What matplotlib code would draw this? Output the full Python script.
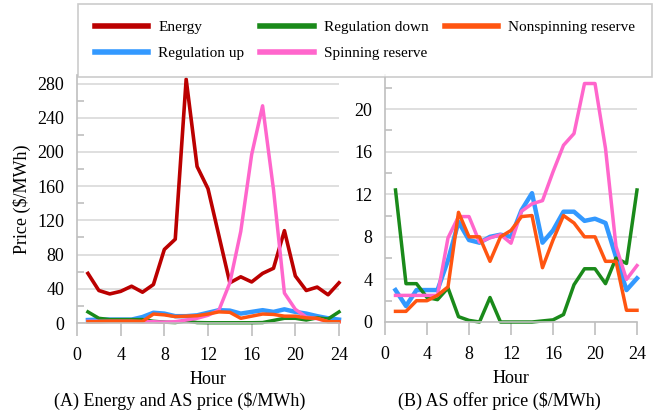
import matplotlib
matplotlib.use('Agg')
import matplotlib.pyplot as plt
from matplotlib.ticker import MultipleLocator

plt.rcParams['font.family'] = ['Liberation Serif', 'DejaVu Serif']

# 小时 1..24
hours = list(range(1, 25))

# (A) 能量与辅助服务价格 ($/MWh)
energy_a = [58, 38, 34, 37, 43, 36, 45, 86, 98, 285, 183, 157,
            102, 47, 54, 48, 58, 64, 108, 55, 38, 42, 33, 47]
reg_up_a = [3.5, 4, 4, 4, 4, 7, 12, 11, 8, 8, 9, 12,
            15, 14.5, 11, 13, 15, 13, 16, 13, 11, 8, 5.5, 4]
reg_down_a = [13, 5.5, 4, 4, 4, 4, 2, 1, 0.5, 2.5, 0.5, 0.3,
              0.3, 0.3, 0.3, 0.3, 0.5, 3, 5.5, 5.5, 3.5, 6, 4.7, 13]
spin_a = [2, 2, 2, 2, 2, 1.5, 1.5, 1, 1.5, 3.5, 5.5, 9,
          15, 47, 107, 197, 254, 156, 35, 16, 7, 5, 1.5, 1.5]
nonspin_a = [1.5, 1.5, 2, 2, 2, 2, 10.5, 9.5, 7.5, 8, 8.5, 10.5,
             13, 12.5, 5.5, 8, 10.5, 10, 8, 8, 6, 5.5, 1.5, 1.5]

# (B) 辅助服务报价 ($/MWh)
reg_up_b = [3.0, 1.5, 3.0, 3.0, 3.0, 5.8, 9.4, 7.7, 7.45, 8.0, 8.2, 8.0,
            10.5, 12.1, 7.45, 8.6, 10.36, 10.36, 9.5, 9.7, 9.3, 6.1, 3.0, 4.1]
reg_down_b = [12.4, 3.6, 3.6, 2.3, 2.1, 3.2, 0.5, 0.15, 0.0, 2.3, 0.0, 0.0,
              0.0, 0.0, 0.1, 0.2, 0.7, 3.5, 5.0, 5.0, 3.6, 6.0, 5.5, 12.4]
spin_b = [2.5, 2.5, 2.5, 2.5, 2.5, 7.9, 9.9, 9.9, 7.5, 7.9, 8.2, 7.4,
          10.4, 11.1, 11.4, 14.1, 16.6, 17.7, 22.4, 22.4, 16.3, 7.1, 4.0, 5.3]
nonspin_b = [1.0, 1.0, 2.0, 2.0, 2.5, 3.3, 10.3, 8.0, 8.0, 5.7, 8.0, 8.6,
             9.9, 10.0, 5.1, 7.7, 10.0, 9.3, 8.0, 8.0, 5.7, 5.7, 1.1, 1.1]

labels = ["Energy", "Regulation up", "Regulation down", "Spinning reserve", "Nonspinning reserve"]
colors = {"Energy": "#bb0000", "Regulation up": "#3399ff", "Regulation down": "#1a8a1a",
          "Spinning reserve": "#ff66cc", "Nonspinning reserve": "#ff5511"}
widths = {"Energy": 2.6, "Regulation up": 3.2, "Regulation down": 2.5,
          "Spinning reserve": 2.5, "Nonspinning reserve": 2.5}

series_a = {"Energy": energy_a, "Regulation up": reg_up_a, "Regulation down": reg_down_a,
            "Spinning reserve": spin_a, "Nonspinning reserve": nonspin_a}
series_b = {"Regulation up": reg_up_b, "Regulation down": reg_down_b,
            "Spinning reserve": spin_b, "Nonspinning reserve": nonspin_b}

fig = plt.figure(figsize=(6.62, 4.13), dpi=100)
ax_a = fig.add_axes([77 / 662, 90 / 413, 262 / 662, 248 / 413])
ax_b = fig.add_axes([385 / 662, 91 / 413, 252 / 662, 247 / 413])

axis_gray = "#bfbfbf"
grid_gray = "#d9d9d9"


def style_axis(ax, ymax, major, minor):
    ax.set_xlim(0, 24)
    ax.set_ylim(0, ymax)
    ax.xaxis.set_major_locator(MultipleLocator(4))
    ax.yaxis.set_major_locator(MultipleLocator(major))
    ax.yaxis.set_minor_locator(MultipleLocator(minor))
    for s in ["top", "right"]:
        ax.spines[s].set_visible(False)
    for s in ["left", "bottom"]:
        ax.spines[s].set_color(axis_gray)
        ax.spines[s].set_linewidth(1.2)
    ax.grid(axis="y", which="major", color=grid_gray, linewidth=1.2)
    ax.set_axisbelow(True)
    ax.tick_params(axis="x", direction="out", length=9, width=1.2, color=axis_gray,
                   labelsize=13, pad=8)
    ax.tick_params(axis="y", which="major", length=0, labelsize=13, pad=9)
    ax.tick_params(axis="y", which="minor", direction="in", length=5, width=1.2, color=axis_gray)
    ax.set_xlabel("Hour", fontsize=13, labelpad=5)


lines = {}
for name in labels:
    ln, = ax_a.plot(hours, series_a[name], color=colors[name], lw=widths[name],
                    solid_joinstyle="round", label=name, clip_on=False)
    lines[name] = ln
    if name in series_b:
        ax_b.plot(hours, series_b[name], color=colors[name], lw=widths[name],
                  solid_joinstyle="round", clip_on=False)

style_axis(ax_a, 290, 40, 20)
style_axis(ax_b, 23.2, 4, 2)
ax_a.set_ylabel("Price ($/MWh)", fontsize=13, labelpad=5)

fig.text(180 / 662, 1 - 401 / 413, "(A) Energy and AS price ($/MWh)", fontsize=13,
         ha="center", va="center")
fig.text(499 / 662, 1 - 401 / 413, "(B) AS offer price ($/MWh)", fontsize=13,
         ha="center", va="center")

leg = fig.legend([lines[n] for n in labels], labels, ncol=3, loc="upper left",
                 bbox_to_anchor=(78 / 662, 1 - 4 / 413), fontsize=11, frameon=True,
                 fancybox=False, edgecolor=axis_gray, borderaxespad=0, borderpad=1.1,
                 labelspacing=0.78, handlelength=3.5, handletextpad=0.65, columnspacing=1.05)
leg.get_frame().set_linewidth(1.2)
for h in leg.legend_handles:
    h.set_linewidth(4)

fig.savefig("out.png", dpi=100)
